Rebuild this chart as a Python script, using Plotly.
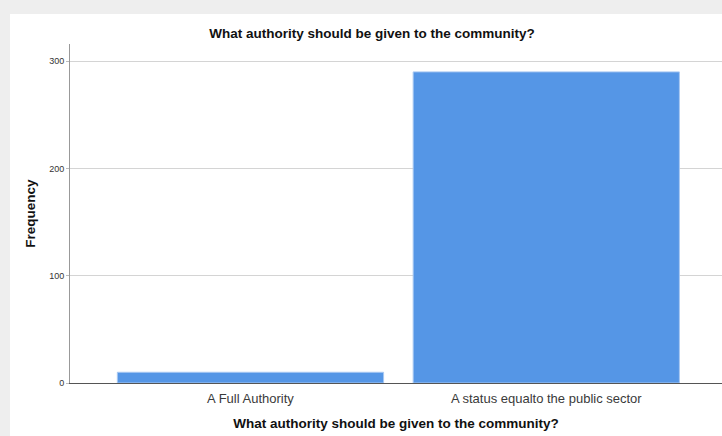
import plotly.graph_objects as go

categories = ["A Full Authority", "A status equalto the public sector"]
frequencies = [10, 290]
y_ticks = [0, 100, 200, 300]

W, H = 722, 436
L, R, T, B = 70, 0, 44, 53
pw, ph = W - L - R, H - T - B

def px_x(p):
    return (p - L) / pw

def px_y(p):
    return (H - B - p) / ph

fig = go.Figure(
    go.Bar(
        x=categories,
        y=frequencies,
        marker=dict(color="#5596e6", line=dict(color="#a8c8f2", width=1)),
        width=0.9,
        hoverinfo="skip",
    )
)

shapes = [
    dict(type="rect", xref="paper", yref="paper", x0=px_x(0), x1=px_x(W), y0=px_y(0), y1=px_y(14),
         fillcolor="#eeeeee", line=dict(width=0), layer="below"),
    dict(type="rect", xref="paper", yref="paper", x0=px_x(0), x1=px_x(10), y0=px_y(0), y1=px_y(H),
         fillcolor="#eeeeee", line=dict(width=0), layer="below"),
]

fig.update_layout(
    width=W, height=H,
    margin=dict(l=L, r=R, t=T, b=B),
    paper_bgcolor="white",
    plot_bgcolor="white",
    shapes=shapes,
    showlegend=False,
    font=dict(family="Liberation Sans, Arial, sans-serif", color="#333333"),
    title=dict(
        text="<b>What authority should be given to the community?</b>",
        x=372 / W, xref="container", xanchor="center",
        y=1 - 33 / H, yref="container", yanchor="middle",
        font=dict(size=13.5, color="#111111"),
    ),
    xaxis=dict(
        range=[-0.61, 1.594],
        showline=True, linecolor="#555555", linewidth=1,
        showgrid=False, zeroline=False,
        ticks="", tickfont=dict(size=13, color="#3a3a3a"),
        ticklabelstandoff=3,
        title=dict(text="<b>What authority should be given to the community?</b>",
                   font=dict(size=13.5, color="#111111"), standoff=13),
        fixedrange=True,
    ),
    yaxis=dict(
        range=[0, 316],
        tickvals=y_ticks,
        showline=True, linecolor="#999999", linewidth=1,
        showgrid=True, gridcolor="#d4d4d4", gridwidth=1,
        zeroline=False,
        ticks="outside", ticklen=3, tickcolor="#bbbbbb",
        tickfont=dict(size=9, color="#333333"),
        ticklabelstandoff=0,
        title=dict(text="<b>Frequency</b>", font=dict(size=13.5, color="#111111"), standoff=10),
        fixedrange=True,
    ),
)

fig.write_html(
    "out.html",
    config={"displayModeBar": False},
    post_script="document.body.style.margin='0';document.body.style.padding='0';",
)
